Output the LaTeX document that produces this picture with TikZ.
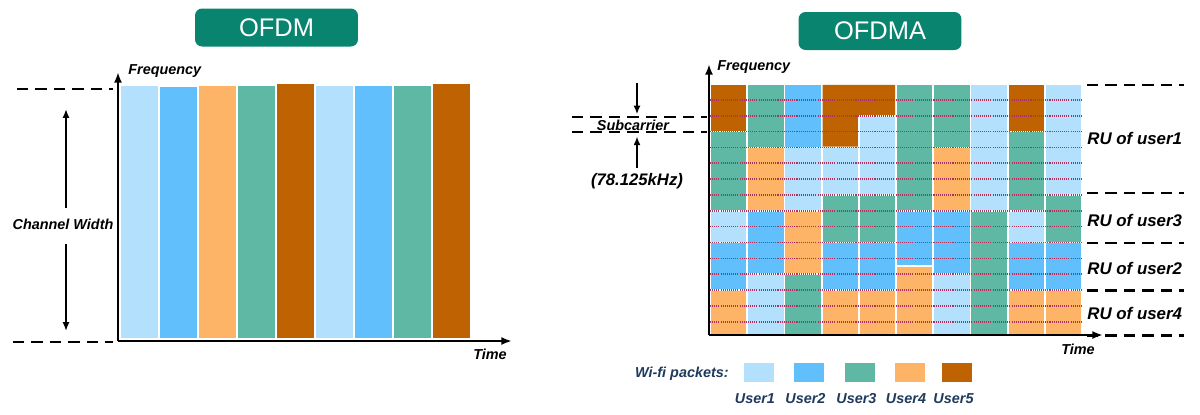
\documentclass[tikz,border=0pt]{standalone}
\usepackage{fontspec}
\setmainfont{Liberation Sans}
\usepackage{tikz}
\usetikzlibrary{positioning,calc,arrows.meta}
\usepackage{xcolor}

\definecolor{ulb}{HTML}{B3E0FD}
\definecolor{ubl}{HTML}{61BFFC}
\definecolor{ugr}{HTML}{5FB8A3}
\definecolor{uor}{HTML}{FDB466}
\definecolor{ubr}{HTML}{BF6302}
\definecolor{titlegreen}{HTML}{08846F}
\definecolor{subline}{HTML}{B0305E}
\definecolor{navy}{HTML}{1F3A5C}

\tikzset{
  lbl/.style={font=\bfseries\itshape\fontsize{8.2}{9}\selectfont, inner sep=0pt},
  rulbl/.style={font=\bfseries\itshape\fontsize{9.6}{11}\selectfont, inner sep=0pt, anchor=west},
  usr/.style={font=\bfseries\itshape\fontsize{8.2}{9}\selectfont, inner sep=0pt, text=navy},
  titlebox/.style={fill=titlegreen, rounded corners=4pt, text=white, minimum width=3.26cm,
    minimum height=0.76cm, inner sep=0pt, font=\fontsize{14.5}{16}\selectfont},
  axis/.style={line width=1.3pt, -{Latex[length=6pt,width=4.5pt]}},
  guide/.style={line width=1.6pt, dash pattern=on 6.5pt off 4pt},
  cwarrow/.style={line width=1.1pt, -{Latex[length=5pt,width=4pt]}},
  subdot/.style={subline, line width=0.9pt, dash pattern=on 0.6pt off 0.6pt},
  swatch/.style={minimum width=0.6cm, minimum height=0.39cm, inner sep=0pt}
}

\begin{document}
\begin{tikzpicture}[x=0.02cm, y=-0.02cm]
  \useasboundingbox (0,0) rectangle (1200,414);

  % OFDM
  \node[titlebox] (ofdm) at (276.5,27.5) {OFDM};

  \foreach \i/\col/\top in {0/ulb/86,1/ubl/87,2/uor/86,3/ugr/86,4/ubr/84,5/ulb/86,6/ubl/86,7/ugr/86,8/ubr/84}
    \fill[\col] (121+39*\i,\top) rectangle (157.5+39*\i,338);

  \coordinate (o1) at (118,341);
  \coordinate (f1) at (118,72);
  \coordinate (t1) at (512,341);
  \draw[axis] (o1) -- (f1);
  \draw[axis] (o1) -- (t1);
  \node[lbl, anchor=west] (freq1) at (128,71) {Frequency};
  \node[lbl] (time1) at (490,354) {Time};

  \draw[guide] (17,89) -- (113,89);
  \draw[guide] (13,342) -- (113,342);
  \node[lbl] (cw) at (63,224) {Channel Width};
  \coordinate (cwt) at (66,109);
  \coordinate (cwb) at (66,331);
  \draw[cwarrow] ($(cw.north -| cwt)+(0,-10)$) -- (cwt);
  \draw[cwarrow] ($(cw.south -| cwb)+(0,14)$) -- (cwb);

  % OFDMA
  \node[titlebox] (ofdma) at (880,31) {OFDMA};

  \begin{scope}
    \clip (710,84) rectangle (1082,333);
    \foreach \c/\a/\b/\col in {0/0/3/ubr, 0/3/8/ugr, 0/8/10/ulb, 0/10/13/ubl, 0/13/17/uor,
        1/0/4/ugr, 1/4/8/uor, 1/8/12/ubl, 1/12/17/ulb,
        2/0/4/ubl, 2/4/8/ulb, 2/8/12/uor, 2/12/17/ugr,
        3/4/7/ulb, 3/7/10/ugr, 3/10/13/ubl, 3/13/17/uor,
        4/2/7/ulb, 4/7/10/ugr, 4/10/13/ubl, 4/13/17/uor,
        5/0/8/ugr, 5/8/11.5/ubl, 5/11.5/17/uor,
        6/0/4/ugr, 6/4/8/uor, 6/8/12/ubl, 6/12/17/ulb,
        7/0/8/ulb, 7/8/17/ugr,
        8/0/3/ubr, 8/3/8/ugr, 8/8/10/ulb, 8/10/13/ubl, 8/13/17/uor,
        9/0/7/ulb, 9/7/10/ugr, 9/10/13/ubl, 9/13/17/uor}
      \fill[\col] (710.9+37.2*\c, 84.9+15.85*\a) rectangle (746.3+37.2*\c, 83.1+15.85*\b);
    \fill[ubr] (822.5,84.9) -- (895.1,84.9) -- (895.1,114.8) -- (857.9,114.8)
      -- (857.9,146.5) -- (822.5,146.5) -- cycle;
    \foreach \r in {1,...,15}
      \draw[subdot] (710,84+15.85*\r) -- (1082,84+15.85*\r);
  \end{scope}

  \coordinate (o2) at (709,335);
  \coordinate (f2) at (709,64);
  \coordinate (t2) at (1103,335);
  \draw[axis] (o2) -- (f2);
  \draw[axis] (o2) -- (t2);
  \node[lbl, anchor=west] (freq2) at (717,67) {Frequency};
  \node[lbl] (time2) at (1078,349) {Time};

  \coordinate (s1) at (572,117);
  \coordinate (s2) at (572,132);
  \draw[guide] (s1) -- (707,117);
  \draw[guide] (s2) -- (707,132);
  \node[lbl] (sub) at (633,125) {Subcarrier};
  \node[lbl, font=\bfseries\itshape\fontsize{9.5}{11}\selectfont] (khz) at (637,181) {(78.125kHz)};
  \coordinate (sdn) at (637,83);
  \draw[cwarrow, shorten >=1.5pt] (sdn) -- (sdn |- s1);
  \draw[cwarrow, shorten <=3pt, shorten >=2.5pt] (khz.north) -- (khz.north |- s2);

  \foreach \y in {85,193,243,290.5,335.5}
    \draw[guide] (1087,\y) -- (1184,\y);
  \node[rulbl] (ru1) at (1087,138) {RU of user1};
  \node[rulbl] (ru3) at (1087,220) {RU of user3};
  \node[rulbl] (ru2) at (1087,268) {RU of user2};
  \node[rulbl] (ru4) at (1087,313) {RU of user4};

  % legend
  \node[usr, anchor=east] (wifi) at (729,374) {Wi-fi packets:};
  \foreach \i/\col/\x in {1/ulb/758.5, 2/ubl/809, 3/ugr/860, 4/uor/909.5, 5/ubr/957} {
    \node[swatch, fill=\col] (sw\i) at (\x,372.5) {};
    \node[usr, below=6pt of sw\i, xshift=-2pt] (user\i) {User\i};
  }
\end{tikzpicture}
\end{document}
